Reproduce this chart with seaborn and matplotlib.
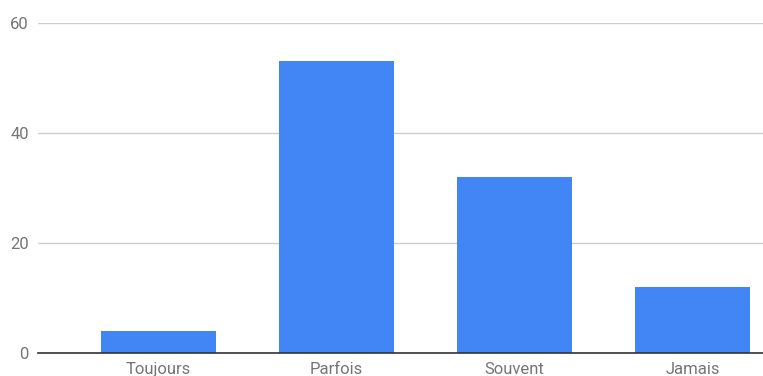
import pandas as pd
import matplotlib.pyplot as plt
import seaborn as sns

categories = ['Toujours', 'Parfois', 'Souvent', 'Jamais']
values = [4, 53, 32, 12]

df = pd.DataFrame({'categorie': categories, 'valeur': values})

sns.set_style('white')
plt.rcParams['font.family'] = ['Roboto', 'DejaVu Sans']

fig = plt.figure(figsize=(7.63, 3.76), dpi=100)
ax = fig.add_axes([38 / 763, 1 - 352.7 / 376, 1 - 38 / 763, 330 / 376])

sns.barplot(data=df, x='categorie', y='valeur', ax=ax, color='#4285F4',
            saturation=1, width=0.645, edgecolor='none', zorder=3)

ax.set_ylim(0, 60)
ax.set_xlim(-0.677, 3.396)
ax.set_yticks([0, 20, 40, 60])
ax.yaxis.grid(True, color='#cccccc', linewidth=1, zorder=0)
ax.set_xlabel('')
ax.set_ylabel('')
for side in ['top', 'right', 'left']:
    ax.spines[side].set_visible(False)
ax.spines['bottom'].set_color('#333333')
ax.spines['bottom'].set_linewidth(1.2)
ax.spines['bottom'].set_zorder(4)
ax.tick_params(axis='both', length=0, labelsize=12, colors='#757575')
ax.tick_params(axis='y', pad=6.5)
ax.tick_params(axis='x', pad=6.5)

fig.savefig('out.png', dpi=100)
